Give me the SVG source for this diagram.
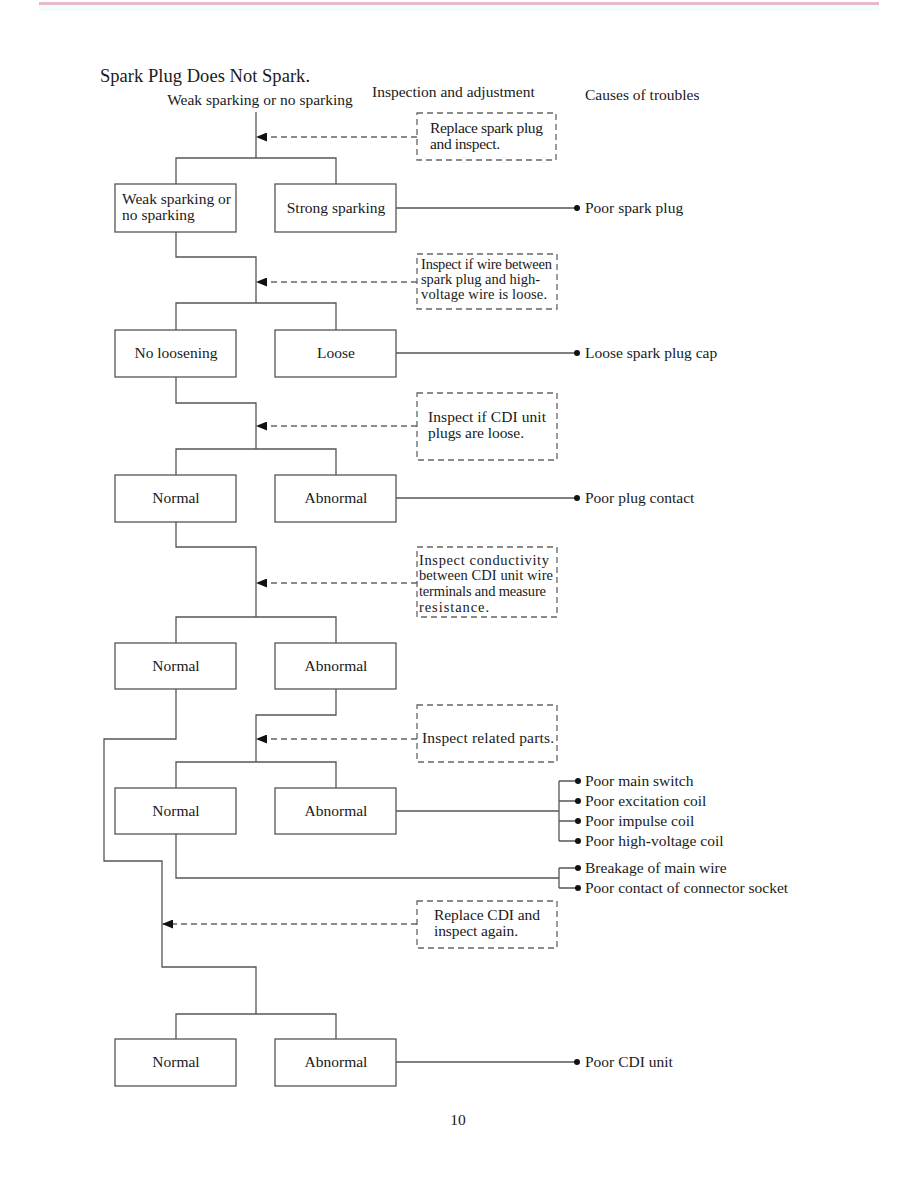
<svg xmlns="http://www.w3.org/2000/svg" width="918" height="1188" viewBox="0 0 918 1188">
<style>
text{font-family:"Liberation Serif","Times New Roman",serif;font-size:15.5px;fill:#1a1a1a}
.box{fill:#fff;stroke:#555;stroke-width:1.3}
.dbox{fill:#fff;stroke:#666;stroke-width:1.3;stroke-dasharray:6,4}
.ln{fill:none;stroke:#555;stroke-width:1.3}
.dl{fill:none;stroke:#666;stroke-width:1.3;stroke-dasharray:6,4}
.c{text-anchor:middle}
.sm{font-size:14.5px}
.ttl{font-size:18.5px}
</style>
<defs>
<marker id="ah" markerWidth="11" markerHeight="9" refX="10" refY="4.5" orient="auto" markerUnits="userSpaceOnUse">
<path d="M0,0 L11,4.5 L0,9 Z" fill="#111"/>
</marker>
<circle id="dot" r="3" fill="#111"/>
</defs>
<rect x="0" y="0" width="918" height="1188" fill="#fff"/>
<rect x="39" y="2" width="840" height="3" fill="#e8b8cc"/>
<rect x="39" y="5" width="840" height="6" fill="#f3fbfb"/>

<g id="headers">
<text x="100" y="82" class="ttl" textLength="210">Spark Plug Does Not Spark.</text>
<text x="260" y="105" class="c">Weak sparking or no sparking</text>
<text x="372" y="97">Inspection and adjustment</text>
<text x="585" y="100">Causes of troubles</text>
<text x="458" y="1125" class="c">10</text>
</g>

<g id="connectors">
<path class="ln" d="M256,112 V158 M176,184 V158 H336 V184"/>
<path class="ln" d="M176,232 V257 H256 V303 M176,330 V303 H336 V330"/>
<path class="ln" d="M176,377 V403 H256 V449 M176,475 V449 H336 V475"/>
<path class="ln" d="M176,522 V547 H256 V617 M176,643 V617 H336 V643"/>
<path class="ln" d="M336,689 V715 H256 V762 M176,788 V762 H336 V788"/>
<path class="ln" d="M176,689 V739 H104 V861 H162 V967 H256 V1014 M176,1039 V1014 H336 V1039"/>
<path class="ln" d="M396,208 H576 M396,353 H576 M396,498 H576 M396,1062 H576"/>
<path class="ln" d="M396,811 H559 M559,781 V841 M559,781 H578 M559,801 H578 M559,821 H578 M559,841 H578"/>
<path class="ln" d="M176,834 V878 H559 M559,868 V888 M559,868 H578 M559,888 H578"/>
<path class="dl" d="M417,137 H257" marker-end="url(#ah)"/>
<path class="dl" d="M417,282 H257" marker-end="url(#ah)"/>
<path class="dl" d="M417,426 H257" marker-end="url(#ah)"/>
<path class="dl" d="M417,583 H257" marker-end="url(#ah)"/>
<path class="dl" d="M417,739 H257" marker-end="url(#ah)"/>
<path class="dl" d="M417,924 H163" marker-end="url(#ah)"/>
<use href="#dot" x="577" y="208"/>
<use href="#dot" x="577" y="353"/>
<use href="#dot" x="577" y="498"/>
<use href="#dot" x="578" y="781"/>
<use href="#dot" x="578" y="801"/>
<use href="#dot" x="578" y="821"/>
<use href="#dot" x="578" y="841"/>
<use href="#dot" x="578" y="868"/>
<use href="#dot" x="578" y="888"/>
<use href="#dot" x="577" y="1062"/>
</g>

<g id="r1-left"><rect class="box" x="115" y="184" width="121" height="48"/><text x="122" y="204">Weak sparking or</text><text x="122" y="220">no sparking</text></g>
<g id="r1-right"><rect class="box" x="275" y="184" width="121" height="48"/><text x="336" y="213" class="c">Strong sparking</text></g>
<g id="r2-left"><rect class="box" x="115" y="330" width="121" height="47"/><text x="176" y="358" class="c">No loosening</text></g>
<g id="r2-right"><rect class="box" x="275" y="330" width="121" height="47"/><text x="336" y="358" class="c">Loose</text></g>
<g id="r3-left"><rect class="box" x="115" y="475" width="121" height="47"/><text x="176" y="503" class="c">Normal</text></g>
<g id="r3-right"><rect class="box" x="275" y="475" width="121" height="47"/><text x="336" y="503" class="c">Abnormal</text></g>
<g id="r4-left"><rect class="box" x="115" y="643" width="121" height="46"/><text x="176" y="671" class="c">Normal</text></g>
<g id="r4-right"><rect class="box" x="275" y="643" width="121" height="46"/><text x="336" y="671" class="c">Abnormal</text></g>
<g id="r5-left"><rect class="box" x="115" y="788" width="121" height="46"/><text x="176" y="816" class="c">Normal</text></g>
<g id="r5-right"><rect class="box" x="275" y="788" width="121" height="46"/><text x="336" y="816" class="c">Abnormal</text></g>
<g id="r6-left"><rect class="box" x="115" y="1039" width="121" height="47"/><text x="176" y="1067" class="c">Normal</text></g>
<g id="r6-right"><rect class="box" x="275" y="1039" width="121" height="47"/><text x="336" y="1067" class="c">Abnormal</text></g>

<g id="act1"><rect class="dbox" x="417" y="113" width="139" height="47"/><text x="430" y="133" textLength="113">Replace spark plug</text><text x="430" y="149" textLength="70">and inspect.</text></g>
<g id="act2"><rect class="dbox" x="417" y="254" width="140" height="55"/><text x="421" y="269" class="sm" textLength="131">Inspect if wire between</text><text x="421" y="284" class="sm" textLength="119">spark plug and high-</text><text x="421" y="299" class="sm" textLength="126">voltage wire is loose.</text></g>
<g id="act3"><rect class="dbox" x="417" y="393" width="140" height="67"/><text x="428" y="422" textLength="118">Inspect if CDI unit</text><text x="428" y="438" textLength="96">plugs are loose.</text></g>
<g id="act4"><rect class="dbox" x="417" y="547" width="140" height="70"/><text x="419" y="565" class="sm" textLength="130">Inspect conductivity</text><text x="419" y="580" class="sm" textLength="134">between CDI unit wire</text><text x="419" y="596" class="sm" textLength="127">terminals and measure</text><text x="419" y="612" class="sm" textLength="70">resistance.</text></g>
<g id="act5"><rect class="dbox" x="417" y="705" width="140" height="57"/><text x="422" y="743" textLength="132">Inspect related parts.</text></g>
<g id="act6"><rect class="dbox" x="417" y="901" width="140" height="47"/><text x="434" y="920" textLength="106">Replace CDI and</text><text x="434" y="936" textLength="84">inspect again.</text></g>

<g id="causes">
<text x="585" y="213">Poor spark plug</text>
<text x="585" y="358">Loose spark plug cap</text>
<text x="585" y="503">Poor plug contact</text>
<text x="585" y="786">Poor main switch</text>
<text x="585" y="806">Poor excitation coil</text>
<text x="585" y="826">Poor impulse coil</text>
<text x="585" y="846">Poor high-voltage coil</text>
<text x="585" y="873">Breakage of main wire</text>
<text x="585" y="893">Poor contact of connector socket</text>
<text x="585" y="1067">Poor CDI unit</text>
</g>
</svg>
